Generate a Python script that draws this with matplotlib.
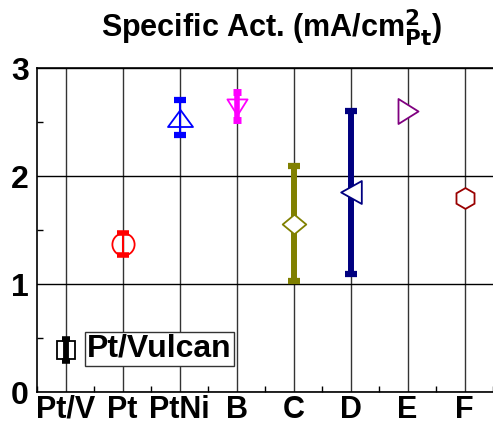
import matplotlib
matplotlib.use("Agg")
import matplotlib.pyplot as plt
from matplotlib.path import Path
import numpy as np

plt.rcParams['font.family'] = ['Liberation Sans', 'DejaVu Sans']

categories = ["Pt/V", "Pt", "PtNi", "B", "C", "D", "E", "F"]
values = [0.39, 1.37, 2.54, 2.64, 1.56, 1.85, 2.60, 1.80]
err_low = [0.10, 0.10, 0.16, 0.12, 0.53, 0.76, 0.0, 0.0]
err_high = [0.10, 0.10, 0.16, 0.14, 0.53, 0.75, 0.0, 0.0]
colors = ["black", "red", "blue", "magenta", "#808000", "#000080", "#800080", "#990000"]


def poly(pts):
    pts = list(pts) + [pts[0]]
    return Path(pts, closed=True)


markers = [
    "s",
    "o",
    poly([(-1, -0.68), (1, -0.68), (0, 0.68)]),
    poly([(-1, 0.8), (1, 0.8), (0, -0.8)]),
    poly([(0, 0.83), (1, 0), (0, -0.83), (-1, 0)]),
    poly([(-0.9, 0), (0.9, 1), (0.9, -1)]),
    poly([(0.8, 0), (-0.8, 1), (-0.8, -1)]),
    "h",
]
msizes = [12.5, 16, 18, 14.5, 17, 16.5, 18, 15]
faces = ["none", "none", "none", "none", "white", "white", "white", "white"]
elw = [4.2, 1.5, 1.5, 4, 4.3, 4.3, 0, 0]
caps = [3, 4, 4.5, 3, 4, 4.3, 0, 0]
capth = [4, 4, 4.5, 5, 4.5, 4.5, 0, 0]

fig = plt.figure(figsize=(4.93, 4.26), dpi=100)
ax = fig.add_axes([37/493, 34/426, 456/493, 324/426])

x = np.arange(len(categories))
for i in range(len(categories)):
    if err_low[i] > 0:
        ax.errorbar(x[i], values[i], yerr=[[err_low[i]], [err_high[i]]], fmt='none',
                    ecolor=colors[i], elinewidth=elw[i], capsize=caps[i], capthick=capth[i], zorder=3)
    ax.plot(x[i], values[i], marker=markers[i], markersize=msizes[i], markerfacecolor=faces[i],
            markeredgecolor=colors[i], markeredgewidth=1.3, linestyle='none', zorder=4)

ax.set_xlim(-0.5, 7.5)
ax.set_ylim(0, 3)
ax.set_xticks(x)
ax.set_xticklabels(categories, fontsize=22, fontweight='bold')
ax.set_yticks([0, 1, 2, 3])
ax.set_yticklabels(["0", "1", "2", "3"], fontsize=23, fontweight='bold')
ax.set_xticks(np.arange(-0.5, 7.6, 1.0), minor=True)
ax.set_yticks([0.5, 1.5, 2.5], minor=True)
ax.tick_params(axis='both', which='both', direction='in', length=4, width=1, pad=2)
ax.tick_params(axis='x', which='major', length=0, pad=2)
ax.tick_params(axis='y', which='major', length=0, pad=6)
for sp in ['top', 'left', 'bottom']:
    ax.spines[sp].set_linewidth(1.2)
ax.spines['right'].set_visible(False)

ax.grid(True, which='major', axis='y', color='black', linewidth=1.0)
ax.grid(True, which='major', axis='x', color='#333333', linewidth=1.0)
ax.set_axisbelow(True)

ax.text(0.377, 0.40, "Pt/Vulcan", fontsize=23, fontweight='bold', va='center', ha='left',
        bbox=dict(boxstyle='square,pad=0.06', facecolor='white', edgecolor='#333333', linewidth=1))

fig.text(0.55, 0.935, r"Specific Act. (mA/cm$^{\mathbf{2}}_{\mathbf{Pt}}$)", fontsize=22,
         fontweight='bold', ha='center', va='center')

fig.savefig("out.png", dpi=100)
